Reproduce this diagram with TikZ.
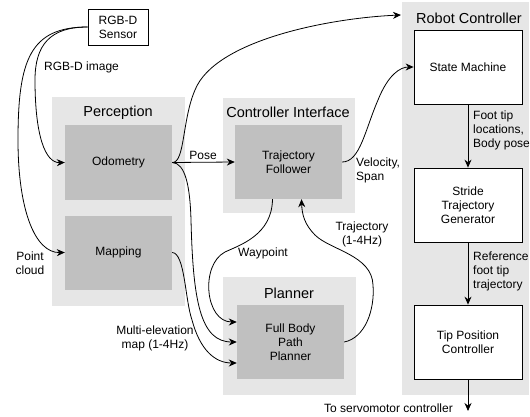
\documentclass[tikz,border=0pt]{standalone}
\usepackage{fontspec}
\setmainfont{Liberation Sans}
\usepackage{tikz}
\usetikzlibrary{arrows.meta,positioning,calc}
\definecolor{groupgray}{HTML}{E6E6E6}
\definecolor{innergray}{HTML}{C0C0C0}
\newcommand{\bodyfont}{\fontsize{12}{14}\selectfont}
\newcommand{\titlefont}{\fontsize{14.5}{16}\selectfont}
\tikzset{
group/.style = {fill=groupgray, rectangle, inner sep=0pt},
inner/.style = {fill=innergray, rectangle, align = center, minimum width=107pt, minimum height=74pt, font=\bodyfont},
block/.style = {draw, fill=white, rectangle, align = center, minimum width=108pt, minimum height=74pt, font=\bodyfont, line width=0.8pt},
title/.style = {font=\titlefont, inner sep=0pt},
lbl/.style = {font=\bodyfont, align=center, inner sep=0pt},
lbll/.style = {font=\bodyfont, align=left, inner sep=0pt, anchor=west},
link/.style = {->, line width=0.8pt},
}
\begin{document}
\begin{tikzpicture}[x=1pt, y=-1pt, >={Stealth[length=8pt,width=7pt]}]
      \useasboundingbox (0,0) rectangle (530,417);
      % groups
      \node [group, name=perc, minimum width=133pt, minimum height=209pt] at (118.5,201.5) {};
      \node [group, name=ci, minimum width=132pt, minimum height=115pt] at (289,155.5) {};
      \node [group, name=plan, minimum width=133pt, minimum height=118pt] at (289.5,336) {};
      \node [group, name=rc, minimum width=127pt, minimum height=393pt] at (465.5,198.5) {};
      \node [title, name=perctitle] at (118,113) {Perception};
      \node [title, name=cititle] at (288,112) {Controller Interface};
      \node [title, name=plantitle] at (289,293) {Planner};
      \node [title, name=rctitle] at (469,18) {Robot Controller};
      % boxes
      \node [draw, fill=white, align=center, font=\bodyfont, line width=0.8pt, minimum width=60pt, minimum height=36pt, inner sep=1pt, name=sensor] at (118,27) {RGB-D\\Sensor};
      \node [inner, name=odometry] at (118.5,162.5) {Odometry};
      \node [inner, name=mapping] at (118.5,252.5) {Mapping};
      \node [inner, name=follower] at (288.5,162) {Trajectory\\Follower};
      \node [inner, name=fbpp] at (290.5,342) {Full Body\\Path\\Planner};
      \node [block, name=sm] at (468,67) {State Machine};
      \node [block, name=stg] at (468,205) {Stride\\Trajectory\\Generator};
      \node [block, name=tpc] at (468,342) {Tip Position\\Controller};
      \coordinate (rcin) at (401,15);
      \coordinate (servo) at (468,411);
      % connectors
      \draw [link] (sensor.west) .. controls (50,27) and (35,45) .. (35,80)
         .. controls (35,135) and (45,163) .. (odometry.west);
      \draw [link] (sensor.west) .. controls (30,27) and (18,60) .. (18,140)
         .. controls (18,210) and (35,253) .. (mapping.west);
      \draw [link] (odometry.east) -- (follower.west);
      \draw [link] (odometry.east) .. controls (185,163) and (182,120) .. (195,90)
         .. controls (215,40) and (330,18) .. (rcin);
      \draw [link] (odometry.east) .. controls (185,163) and (190,185) .. (191,220)
         .. controls (193,300) and (200,342) .. (fbpp.west);
      \draw [link] (mapping.east) .. controls (185,253) and (185,300) .. (192,320)
         .. controls (200,350) and (215,363) .. ([yshift=-21pt]fbpp.west);
      \draw [link] ([xshift=-16pt]follower.south) .. controls (272,235) and (240,245) .. (225,252)
         .. controls (200,265) and (205,322) .. ([yshift=20pt]fbpp.west);
      \draw [link] (fbpp.east) .. controls (365,338) and (375,310) .. (373,285)
         .. controls (372,255) and (330,250) .. (315,235)
         .. controls (305,225) and (302,215) .. ([xshift=13pt]follower.south);
      \draw [link] (follower.east) .. controls (360,162) and (365,130) .. (378,100)
         .. controls (388,75) and (400,67) .. (sm.west);
      \draw [link] (sm) -- (stg);
      \draw [link] (stg) -- (tpc);
      \draw [link] (tpc) -- (servo);
      % labels
      \node [lbll, name=lrgbd] at (44,67) {RGB-D image};
      \node [lbl, name=lcloud] at (30,263) {Point\\cloud};
      \node [lbl, name=lpose] at (203,155) {Pose};
      \node [lbl, name=lmap] at (155,338) {Multi-elevation\\map (1-4Hz)};
      \node [lbl, name=lway] at (263,253) {Waypoint};
      \node [lbl, name=ltraj] at (362,234) {Trajectory\\(1-4Hz)};
      \node [lbll, name=lvel] at (356,170) {Velocity,\\Span};
      \node [lbll, name=lfoot] at (473,130) {Foot tip\\locations,\\Body pose};
      \node [lbll, name=lref] at (473,271) {Reference\\foot tip\\trajectory};
      \node [lbl, anchor=east, name=lservo] at (453,408) {To servomotor controller};
\end{tikzpicture}
\end{document}
